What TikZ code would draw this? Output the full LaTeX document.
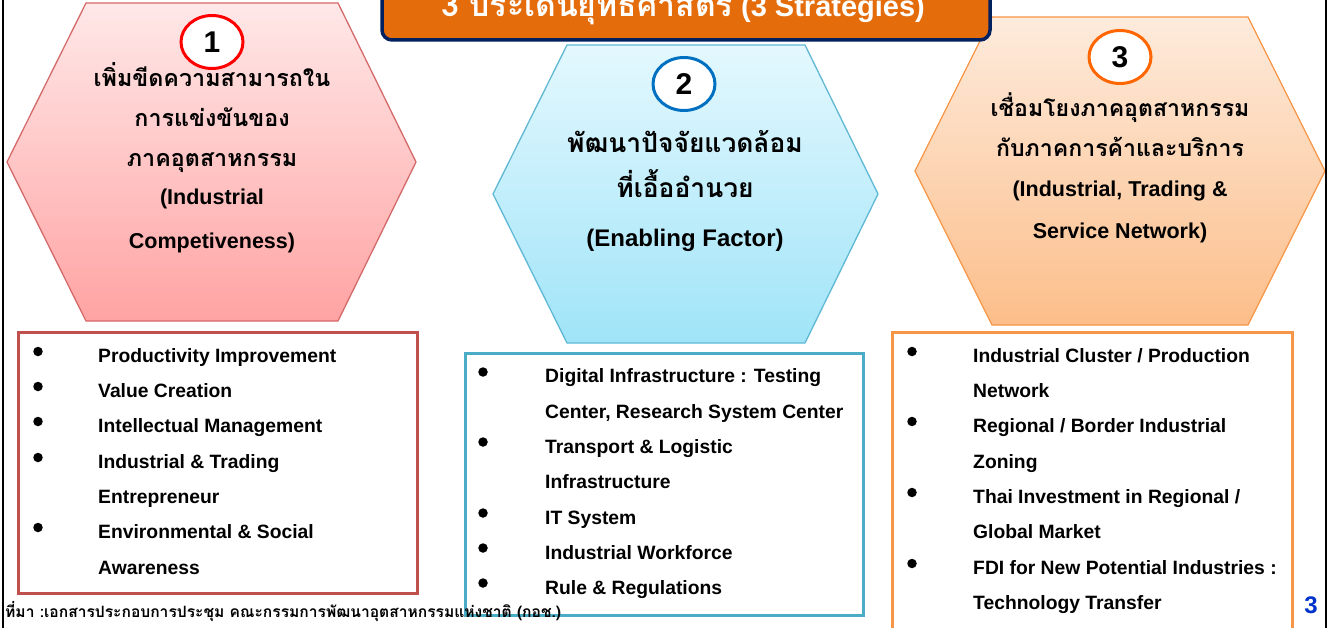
\documentclass[tikz,border=0pt]{standalone}
\usepackage{fontspec}
\setmainfont{Liberation Sans}
\newfontfamily\thai[Script=Thai]{Loma}
\usetikzlibrary{shapes.geometric}
\newcommand\setfs[1]{\fontsize{#1}{#1}\selectfont}
\definecolor{hexAtop}{RGB}{255,232,232}
\definecolor{hexAbot}{RGB}{255,163,163}
\definecolor{hexAline}{RGB}{212,106,106}
\definecolor{hexBtop}{RGB}{228,248,254}
\definecolor{hexBbot}{RGB}{160,228,248}
\definecolor{hexBline}{RGB}{95,184,212}
\definecolor{hexCtop}{RGB}{253,235,220}
\definecolor{hexCbot}{RGB}{252,190,138}
\definecolor{hexCline}{RGB}{247,150,70}
\definecolor{boxA}{RGB}{192,80,77}
\definecolor{boxB}{RGB}{75,172,198}
\definecolor{boxC}{RGB}{247,150,70}
\definecolor{circA}{RGB}{255,0,0}
\definecolor{circB}{RGB}{0,112,192}
\definecolor{circC}{RGB}{255,102,0}
\definecolor{bannerfill}{RGB}{228,108,10}
\definecolor{bannerline}{RGB}{0,32,96}
\definecolor{pagenum}{RGB}{0,51,204}
\tikzset{
  hexline/.style={line width=1.3pt},
  listbox/.style={line width=3pt, fill=white},
  numcirc/.style={ellipse, draw, line width=3pt, fill=white, inner sep=0,
    minimum width=62pt, minimum height=53pt, font=\bfseries\setfs{30}},
  ttl/.style={anchor=base, inner sep=0, font=\bfseries\setfs{21.5}},
  ttlb/.style={anchor=base, inner sep=0, font=\bfseries\setfs{24}},
  thA/.style={anchor=base, inner sep=0, font=\thai\bfseries\setfs{23.3}},
  thB/.style={anchor=base, inner sep=0, font=\thai\bfseries\setfs{26.4}},
  thC/.style={anchor=base, inner sep=0, font=\thai\bfseries\setfs{23.1}},
  item/.style={anchor=base west, inner sep=0, font=\bfseries\setfs{19.3}},
  bul/.style={circle, fill=black, inner sep=0, minimum size=9.5pt},
}
\begin{document}
\begin{tikzpicture}[x=1pt, y=-1pt]
\useasboundingbox (0,0) rectangle (1329,628);
\clip (0,0) rectangle (1329,628);
\fill[white] (0,0) rectangle (1329,628);
% hexagons
\path[hexline, draw=hexAline, top color=hexAtop, bottom color=hexAbot]
  (86,3) -- (338,3) -- (416,162) -- (338,321) -- (86,321) -- (7,162) -- cycle;
\path[hexline, draw=hexBline, top color=hexBtop, bottom color=hexBbot]
  (567,45) -- (805,45) -- (878,194) -- (805,343) -- (567,343) -- (493,194) -- cycle;
\path[hexline, draw=hexCline, top color=hexCtop, bottom color=hexCbot]
  (992,17) -- (1248,17) -- (1325,171) -- (1248,325) -- (992,325) -- (915,171) -- cycle;
% banner
\draw[line width=3.5pt, draw=bannerline, fill=bannerfill, rounded corners=10pt]
  (382,-40) rectangle (990,40);
\node[anchor=base, inner sep=0, text=white, font=\bfseries\setfs{29}] (banner) at (683,17)
  {{\thai\setfs{32}3 ประเด็นยุทธศาสตร์} (3 Strategies)};
% side lines
\draw[line width=2pt] (3,-5) -- (3,640);
\draw[line width=2pt] (1326,-5) -- (1326,640);
% number circles
\node[numcirc, draw=circA] (c1) at (212,42) {1};
\node[numcirc, draw=circB] (c2) at (684,84) {2};
\node[numcirc, draw=circC] (c3) at (1120,57) {3};
% hexagon texts
\node[thA] (a1) at (212,87) {เพิ่มขีดความสามารถใน};
\node[thA] (a2) at (212,127) {การแข่งขันของ};
\node[thA] (a3) at (212,167) {ภาคอุตสาหกรรม};
\node[ttl] (a4) at (212,205) {(Industrial};
\node[ttl] (a5) at (212,248) {Competiveness)};
\node[thB] (b1) at (685,153) {พัฒนาปัจจัยแวดล้อม};
\node[thB] (b2) at (685,198) {ที่เอื้ออำนวย};
\node[ttlb] (b3) at (685,247) {(Enabling Factor)};
\node[thC] (d1) at (1120,117) {เชื่อมโยงภาคอุตสาหกรรม};
\node[thC] (d2) at (1120,157) {กับภาคการค้าและบริการ};
\node[ttl] (d3) at (1120,197) {(Industrial, Trading \&};
\node[ttl] (d4) at (1120,239) {Service Network)};
% list boxes
\draw[listbox, draw=boxA] (18,332) rectangle (417,593);
\draw[listbox, draw=boxB] (465,353) rectangle (863,615);
\draw[listbox, draw=boxC] (892,332) rectangle (1292,650);
% box 1
\node[bul] (p1) at (38,351.5) {};
\node[bul] (p2) at (38,386.5) {};
\node[bul] (p3) at (38,421.5) {};
\node[bul] (p4) at (38,457.5) {};
\node[bul] (p5) at (38,527.5) {};
\node[item] (i1) at (98,362) {Productivity Improvement};
\node[item] (i2) at (98,397) {Value Creation};
\node[item] (i3) at (98,432) {Intellectual Management};
\node[item] (i4) at (98,468) {Industrial \& Trading};
\node[item] (i5) at (98,503) {Entrepreneur};
\node[item] (i6) at (98,538) {Environmental \& Social};
\node[item] (i7) at (98,574) {Awareness};
% box 2
\node[bul] (q1) at (483,372) {};
\node[bul] (q2) at (483,442) {};
\node[bul] (q3) at (483,513) {};
\node[bul] (q4) at (483,548) {};
\node[bul] (q5) at (483,583) {};
\node[item] (j1) at (545,382) {Digital Infrastructure : Testing};
\node[item] (j2) at (545,418) {Center, Research System Center};
\node[item] (j3) at (545,453) {Transport \& Logistic};
\node[item] (j4) at (545,488) {Infrastructure};
\node[item] (j5) at (545,524) {IT System};
\node[item] (j6) at (545,559) {Industrial Workforce};
\node[item] (j7) at (545,594) {Rule \& Regulations};
% box 3
\node[bul] (r1) at (912,351.5) {};
\node[bul] (r2) at (912,421.5) {};
\node[bul] (r3) at (912,492.5) {};
\node[bul] (r4) at (912,563.5) {};
\node[item] (k1) at (973,362) {Industrial Cluster / Production};
\node[item] (k2) at (973,397) {Network};
\node[item] (k3) at (973,432) {Regional / Border Industrial};
\node[item] (k4) at (973,468) {Zoning};
\node[item] (k5) at (973,503) {Thai Investment in Regional /};
\node[item] (k6) at (973,538) {Global Market};
\node[item] (k7) at (973,574) {FDI for New Potential Industries :};
\node[item] (k8) at (973,609) {Technology Transfer};
% footer
\node[anchor=base west, inner sep=0, font=\thai\bfseries\setfs{15.6}] (src) at (5,617)
  {ที่มา :เอกสารประกอบการประชุม คณะกรรมการพัฒนาอุตสาหกรรมแห่งชาติ (กอช.)};
\node[anchor=base, inner sep=0, text=pagenum, font=\bfseries\setfs{24}] (pg) at (1311,613) {3};
\end{tikzpicture}
\end{document}
